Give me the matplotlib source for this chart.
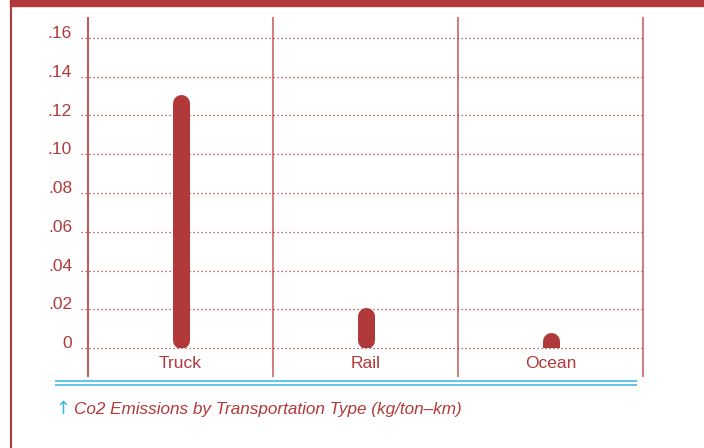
import matplotlib
matplotlib.use("Agg")
from matplotlib import pyplot as plt
from matplotlib.patches import Rectangle

plt.rcParams['font.family'] = ['Liberation Sans Narrow', 'Liberation Sans', 'DejaVu Sans']

# data
modes = ["Truck", "Rail", "Ocean"]
co2 = [0.131, 0.021, 0.008]
yticks = [0, 0.02, 0.04, 0.06, 0.08, 0.10, 0.12, 0.14, 0.16]
ytick_labels = ["0", ".02", ".04", ".06", ".08", ".10", ".12", ".14", ".16"]

red = "#b2393a"
light_red = "#cc6566"
cyan = "#35b5e5"

W, H = 704, 448
fig = plt.figure(figsize=(W / 100, H / 100), dpi=100)

# page decoration: top band + left rule
fig.patches.append(Rectangle((10 / W, 1 - 6 / H), 1, 6 / H, transform=fig.transFigure,
                             color=red, zorder=0))
fig.add_artist(plt.Line2D([11 / W, 11 / W], [0, 1], transform=fig.transFigure,
                          color=red, lw=1.5))

# axes laid out in pixel terms: x unit = 185 px starting at 88, y: 0 at 348 px, .02 per 38.75 px
px_x = 185.0
px_y = 38.75 / 0.02
left_px, right_px, top_px, bot_px = 30, 680, 10, 440
ax = fig.add_axes([left_px / W, (H - bot_px) / H, (right_px - left_px) / W, (bot_px - top_px) / H])
ax.set_xlim((left_px - 88) / px_x, (right_px - 88) / px_x)
ax.set_ylim((348 - bot_px) / px_y, (348 - top_px) / px_y)
ax.axis("off")

ylo = (348 - 377) / px_y
yhi = (348 - 17) / px_y

# vertical dividers
for i in range(len(modes) + 1):
    ax.plot([i, i], [ylo, yhi], color=red if i == 0 else light_red, lw=1.2,
            solid_capstyle="butt", zorder=1)

# dotted gridlines + tick labels
gx0 = (81 - 88) / px_x
for v, lab in zip(yticks, ytick_labels):
    ax.plot([gx0, len(modes)], [v, v], color=red, lw=0.9, ls=(0, (1, 2.2)), zorder=1)
    ax.text((72 - 88) / px_x, v + 0.0022, lab, ha="right", va="center", color=red, fontsize=12.5)

# rounded bars
r = 8.5 / px_y
clip = Rectangle((-1, 0), 10, 1, transform=ax.transData)
for i, (m, v) in enumerate(zip(modes, co2)):
    bottom = r if v >= 2 * r else 0
    top = v - r
    ln, = ax.plot([i + 0.5, i + 0.5], [bottom, top], color=red, lw=17 * 0.72,
                  solid_capstyle="round", zorder=3)
    ln.set_clip_path(clip)
    ax.text(i + 0.5, (348 - 363.5) / px_y, m, ha="center", va="center", color=red, fontsize=12.5)

# double cyan rule
for ypx in (381, 385):
    ax.plot([(55 - 88) / px_x, (637 - 88) / px_x], [(348 - ypx) / px_y] * 2, color=cyan,
            lw=1.1, solid_capstyle="butt")

# caption
fig.text(55 / W, 1 - 409 / H, "\u2191", color=cyan, fontsize=13, va="center", ha="left",
         family=["DejaVu Sans"])
fig.text(74 / W, 1 - 409 / H, "Co2 Emissions by Transportation Type (kg/ton\u2013km)",
         color=red, fontsize=12.3, style="italic", va="center", ha="left")

fig.savefig("out.png", dpi=100)
